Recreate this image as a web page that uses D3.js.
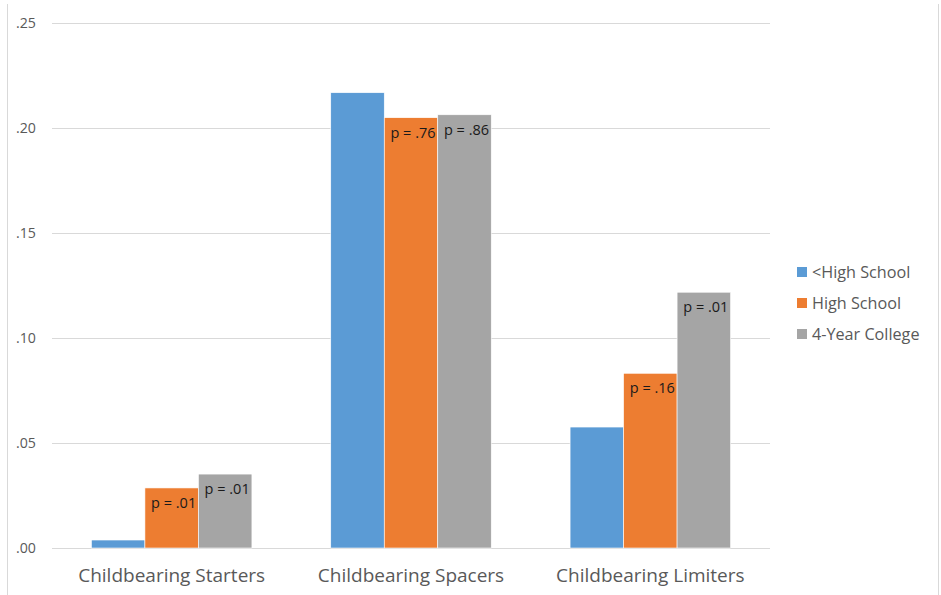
<!DOCTYPE html>
<html>
<head>
<meta charset="utf-8">
<script src="https://cdn.jsdelivr.net/npm/d3@7"></script>
<style>
  body { margin: 0; background: #fff; }
  text { font-family: "Open Sans", Lato, sans-serif; }
</style>
</head>
<body>
<div id="chart"></div>
<script>
const categories = ["Childbearing Starters", "Childbearing Spacers", "Childbearing Limiters"];
const seriesNames = ["<High School", "High School", "4-Year College"];
const lessHS = [0.0038, 0.2168, 0.0576];
const highSchool = [0.0286, 0.2049, 0.0832];
const college = [0.0352, 0.2063, 0.1218];
const pLabels = [
    [null, "p = .01", "p = .01"],
    [null, "p = .76", "p = .86"],
    [null, "p = .16", "p = .01"]
];
const yTicks = [0, 0.05, 0.10, 0.15, 0.20, 0.25];
const colors = ["#5B9BD5", "#ED7D31", "#A5A5A5"];

const width = 941, height = 595;
const svg = d3.select("#chart")
    .append("svg")
    .attr("width", width)
    .attr("height", height);

// light frame on the sides
svg.append("line").attr("x1", 7.5).attr("x2", 7.5).attr("y1", 4).attr("y2", height)
    .attr("stroke", "#d9d9d9");
svg.append("line").attr("x1", 938.5).attr("x2", 938.5).attr("y1", 4).attr("y2", height)
    .attr("stroke", "#d9d9d9");

const plotLeft = 52, plotRight = 770, plotTop = 23, plotBottom = 548;

const x0 = d3.scaleBand()
    .domain(categories)
    .range([plotLeft, plotRight])
    .paddingInner(0)
    .paddingOuter(0);

const groupPad = (x0.bandwidth() - 160.5) / 2;
const x1 = d3.scaleBand()
    .domain(seriesNames)
    .range([groupPad, x0.bandwidth() - groupPad]);

const y = d3.scaleLinear()
    .domain([0, 0.25])
    .range([plotBottom, plotTop]);

// gridlines
svg.append("g")
    .selectAll("line")
    .data(yTicks)
    .enter()
    .append("line")
    .attr("x1", plotLeft)
    .attr("x2", plotRight)
    .attr("y1", d => Math.round(y(d)) + 0.5)
    .attr("y2", d => Math.round(y(d)) + 0.5)
    .attr("stroke", "#d9d9d9");

// y tick labels
svg.append("g")
    .selectAll("text")
    .data(yTicks)
    .enter()
    .append("text")
    .attr("x", 16)
    .attr("y", d => y(d) + 5)
    .attr("font-size", 14.2)
    .attr("fill", "#595959")
    .text(d => d3.format(".2f")(d).replace(/^0/, ""));

const rows = categories.map((c, i) => ({
    category: c,
    values: [lessHS[i], highSchool[i], college[i]].map((v, j) => ({
        series: seriesNames[j], value: v, color: colors[j], label: pLabels[i][j]
    }))
}));

const groups = svg.selectAll(".group")
    .data(rows)
    .enter()
    .append("g")
    .attr("class", "group")
    .attr("transform", d => `translate(${x0(d.category)},0)`);

groups.selectAll("rect")
    .data(d => d.values)
    .enter()
    .append("rect")
    .attr("x", d => x1(d.series))
    .attr("y", d => y(d.value))
    .attr("width", x1.bandwidth())
    .attr("height", d => y(0) - y(d.value))
    .attr("fill", d => d.color)
    .attr("stroke", "#fff")
    .attr("stroke-width", 0.6);

groups.selectAll(".plabel")
    .data(d => d.values.filter(v => v.label))
    .enter()
    .append("text")
    .attr("class", "plabel")
    .attr("x", d => x1(d.series) + x1.bandwidth() / 2 + 2)
    .attr("y", d => y(d.value) + 20)
    .attr("text-anchor", "middle")
    .attr("font-size", 14.5)
    .attr("fill", "#1a1a1a")
    .text(d => d.label);

// category labels
svg.append("g")
    .selectAll("text")
    .data(categories)
    .enter()
    .append("text")
    .attr("x", d => x0(d) + x0.bandwidth() / 2)
    .attr("y", 582)
    .attr("text-anchor", "middle")
    .attr("font-size", 19)
    .attr("fill", "#595959")
    .text(d => d);

// legend
const legend = svg.append("g")
    .selectAll("g")
    .data(seriesNames)
    .enter()
    .append("g")
    .attr("transform", (d, i) => `translate(797,${272 + i * 31})`);

legend.append("rect")
    .attr("x", 0)
    .attr("y", -5)
    .attr("width", 10)
    .attr("height", 10)
    .attr("fill", (d, i) => colors[i]);

legend.append("text")
    .attr("x", 15)
    .attr("y", 6)
    .attr("font-size", 16.2)
    .attr("fill", "#595959")
    .text(d => d);
</script>
</body>
</html>
